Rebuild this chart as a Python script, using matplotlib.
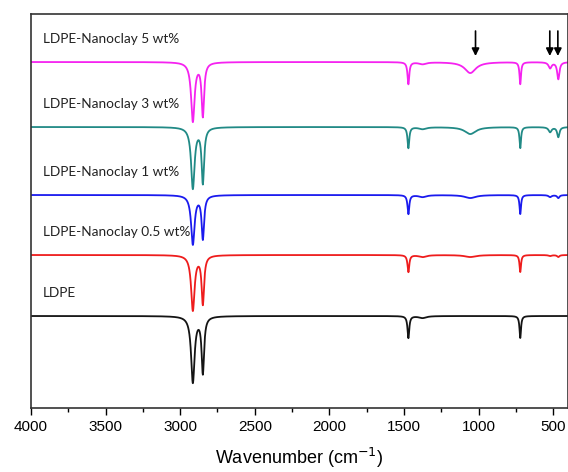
import numpy as np
import matplotlib.pyplot as plt
from matplotlib.ticker import MultipleLocator

# sample names, bottom to top
labels = ["LDPE", "LDPE-Nanoclay 0.5 wt%", "LDPE-Nanoclay 1 wt%",
          "LDPE-Nanoclay 3 wt%", "LDPE-Nanoclay 5 wt%"]
colors = ["#141414", "#ee1c1c", "#1a1aee", "#218a86", "#f522f0"]

# vertical offset of each trace (arbitrary transmittance units)
baselines = [92, 153, 213, 281, 346]

# absorption bands: centre (cm-1) and half width
band_centres = [2915, 2848, 1470, 1375, 1055, 720, 520, 465]
band_widths = [14, 10, 7, 30, 45, 6, 12, 9]

# band depth per sample, same order as band_centres
depths = [
    [66, 56, 22, 2, 0, 22, 0, 0],     # LDPE
    [55, 48, 17, 2, 2, 17, 1, 2],     # 0.5 wt%
    [49, 43, 19, 2, 3, 19, 2, 3],     # 1 wt%
    [61, 55, 21, 2, 7, 21, 5, 10],    # 3 wt%
    [59, 53, 22, 2, 11, 22, 6, 17],   # 5 wt%
]

# arrows marking the clay bands on the top trace
arrow_pos = [1020, 522, 468]

wavenumber = np.linspace(4000, 400, 3601)


def spectrum(base, band_depths):
    y = np.full_like(wavenumber, base, dtype=float)
    for c, w, d in zip(band_centres, band_widths, band_depths):
        y -= d / (1 + ((wavenumber - c) / w) ** 2)
    return y


fig = plt.figure(figsize=(5.68, 4.72), dpi=100)
ax = fig.add_axes([0.0546, 0.1356, 0.9454, 0.8347])

for name, col, base, d in zip(labels, colors, baselines, depths):
    ax.plot(wavenumber, spectrum(base, d), color=col, lw=1.3)
    ax.text(3920, base + 17, name, fontsize=9.8, family="Lato",
            color="#222222", va="bottom")

for xa in arrow_pos:
    ax.annotate("", xy=(xa, 352), xytext=(xa, 377),
                arrowprops=dict(arrowstyle="-|>", color="black", lw=1.2,
                                mutation_scale=11, shrinkA=0, shrinkB=0))

ax.set_xlim(4000, 400)
ax.set_ylim(0, 394)
ax.set_yticks([])
ax.xaxis.set_major_locator(MultipleLocator(500))
ax.xaxis.set_minor_locator(MultipleLocator(250))
ax.tick_params(axis="x", which="major", direction="out", length=5,
               width=1, labelsize=11, pad=4)
ax.tick_params(axis="x", which="minor", direction="out", length=3, width=1)
for lab in ax.get_xticklabels():
    lab.set_family("Liberation Sans")
ax.set_xlabel("Wavenumber (cm$^{-1}$)", fontsize=13, family="Liberation Sans",
              labelpad=8)
for s in ax.spines.values():
    s.set_color("#333333")
    s.set_linewidth(1.2)

fig.savefig("out.png", dpi=100)
